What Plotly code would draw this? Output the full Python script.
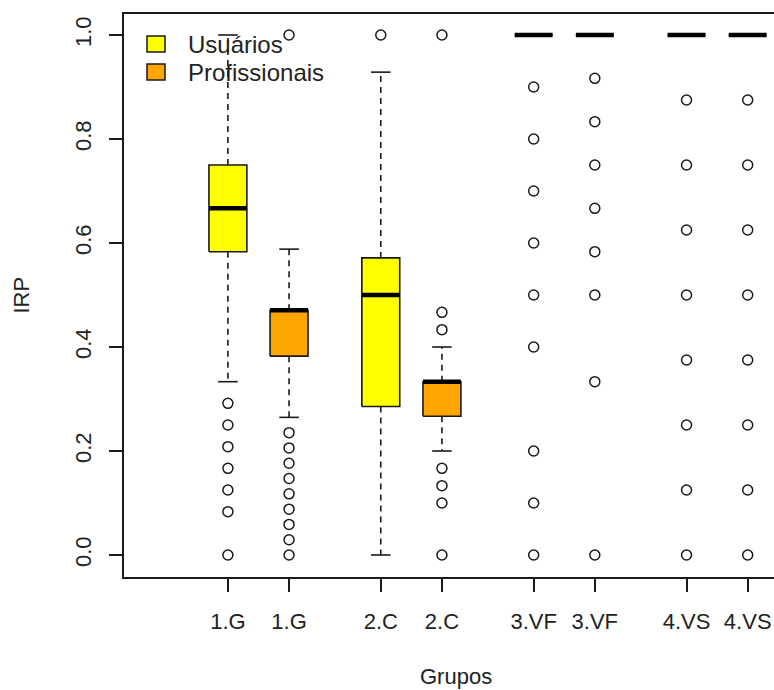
import plotly.graph_objects as go

# Box statistics per group (IRP scores), two respondent types
groups = ["1.G", "2.C", "3.VF", "4.VS"]
series_names = ["Usuários", "Profissionais"]

usu_q1 = [0.5833, 0.2857, 1.0, 1.0]
usu_median = [0.6667, 0.5000, 1.0, 1.0]
usu_q3 = [0.7500, 0.5714, 1.0, 1.0]
usu_whisker_lo = [0.3333, 0.0, 1.0, 1.0]
usu_whisker_hi = [1.0, 0.9286, 1.0, 1.0]
usu_outliers = [
    [0.2917, 0.2500, 0.2083, 0.1667, 0.1250, 0.0833, 0.0],
    [1.0],
    [0.9, 0.8, 0.7, 0.6, 0.5, 0.4, 0.2, 0.1, 0.0],
    [0.875, 0.75, 0.625, 0.5, 0.375, 0.25, 0.125, 0.0],
]

pro_q1 = [0.3824, 0.2667, 1.0, 1.0]
pro_median = [0.4706, 0.3333, 1.0, 1.0]
pro_q3 = [0.4706, 0.3333, 1.0, 1.0]
pro_whisker_lo = [0.2647, 0.2000, 1.0, 1.0]
pro_whisker_hi = [0.5882, 0.4000, 1.0, 1.0]
pro_outliers = [
    [1.0, 0.2353, 0.2059, 0.1765, 0.1471, 0.1176, 0.0882, 0.0588, 0.0294, 0.0],
    [1.0, 0.4667, 0.4333, 0.1667, 0.1333, 0.1000, 0.0],
    [0.9167, 0.8333, 0.75, 0.6667, 0.5833, 0.5, 0.3333, 0.0],
    [0.875, 0.75, 0.625, 0.5, 0.375, 0.25, 0.125, 0.0],
]

y_ticks = [0.0, 0.2, 0.4, 0.6, 0.8, 1.0]

# layout / style
FILL = {"Usuários": "#FFFF00", "Profissionais": "#FFA500"}
INK = "#1a1a1a"
FONT = "Liberation Sans, Arial, sans-serif"
HALF_BOX = 0.31
HALF_CAP = 0.16
GROUP_STEP = 2.5

W, H = 774, 690
M_L, M_R, M_T, M_B = 124, 0, 14, 113
PLOT_W, PLOT_H = W - M_L - M_R, H - M_T - M_B


def px(xpix):
    return (xpix - M_L) / PLOT_W


def py(ypix):
    return (H - M_B - ypix) / PLOT_H


series = [
    ("Usuários", 0.0, usu_q1, usu_median, usu_q3, usu_whisker_lo, usu_whisker_hi, usu_outliers),
    ("Profissionais", 1.0, pro_q1, pro_median, pro_q3, pro_whisker_lo, pro_whisker_hi, pro_outliers),
]

fig = go.Figure()
tick_pos, tick_txt = [], []

for name, offset, q1, med, q3, wlo, whi, outs in series:
    for i, g in enumerate(groups):
        p = 1 + GROUP_STEP * i + offset
        tick_pos.append(p)
        tick_txt.append(g)
        # dashed whiskers
        fig.add_trace(go.Scatter(
            x=[p, p, None, p, p], y=[q3[i], whi[i], None, q1[i], wlo[i]],
            mode="lines", line=dict(color=INK, width=1.6, dash="6px,5px"),
            showlegend=False, hoverinfo="skip"))
        # staples
        fig.add_trace(go.Scatter(
            x=[p - HALF_CAP, p + HALF_CAP, None, p - HALF_CAP, p + HALF_CAP],
            y=[whi[i], whi[i], None, wlo[i], wlo[i]],
            mode="lines", line=dict(color=INK, width=1.6),
            showlegend=False, hoverinfo="skip"))
        # box
        fig.add_trace(go.Scatter(
            x=[p - HALF_BOX, p + HALF_BOX, p + HALF_BOX, p - HALF_BOX, p - HALF_BOX],
            y=[q1[i], q1[i], q3[i], q3[i], q1[i]],
            mode="lines", fill="toself", fillcolor=FILL[name],
            line=dict(color=INK, width=1.6),
            showlegend=False, hoverinfo="skip"))
        # median
        fig.add_trace(go.Scatter(
            x=[p - HALF_BOX, p + HALF_BOX], y=[med[i], med[i]],
            mode="lines", line=dict(color="#000000", width=4.5),
            showlegend=False, hoverinfo="skip"))
        # outliers
        fig.add_trace(go.Scatter(
            x=[p] * len(outs[i]), y=outs[i], mode="markers",
            marker=dict(symbol="circle-open", size=10, color=INK, line=dict(width=1.5)),
            showlegend=False, hoverinfo="skip"))

# legend: colour keys and labels in the top-left corner of the plot
shapes, annotations = [], []
for k, name in enumerate(series_names):
    cy = 44 + 28 * k
    shapes.append(dict(type="rect", xref="paper", yref="paper",
                       x0=px(147), x1=px(165), y0=py(cy - 8), y1=py(cy + 8),
                       fillcolor=FILL[name], line=dict(color=INK, width=1.5)))
    annotations.append(dict(text=name, xref="paper", yref="paper",
                            x=px(186), y=py(cy), xanchor="left", yanchor="middle",
                            showarrow=False, font=dict(size=24)))

annotations += [
    dict(text="IRP", xref="paper", yref="paper", x=0, y=0.5,
         xanchor="center", yanchor="middle", xshift=-103, textangle=-90,
         showarrow=False, font=dict(size=22)),
    dict(text="Grupos", xref="paper", yref="paper", x=px(456), y=0,
         xanchor="center", yanchor="middle", yshift=-99,
         showarrow=False, font=dict(size=22)),
]

fig.update_layout(
    width=W, height=H,
    margin=dict(l=M_L, r=M_R, t=M_T, b=M_B),
    paper_bgcolor="white", plot_bgcolor="white",
    font=dict(family=FONT, size=22, color="#222222"),
    showlegend=False,
    xaxis=dict(range=[-0.699, 9.93], tickvals=tick_pos, ticktext=tick_txt,
               showgrid=False, zeroline=False, showline=True, mirror=True,
               linecolor=INK, linewidth=1.5, ticks="outside", ticklen=13,
               tickwidth=1.5, tickcolor=INK, ticklabelstandoff=11,
               fixedrange=True),
    yaxis=dict(range=[-0.0423, 1.0404], tickvals=y_ticks,
               ticktext=[f"{v:.1f}" for v in y_ticks], tickangle=-90,
               showgrid=False, zeroline=False, showline=True, mirror=False,
               linecolor=INK, linewidth=1.5, ticks="outside", ticklen=13,
               tickwidth=1.5, tickcolor=INK, ticklabelstandoff=9,
               fixedrange=True),
    shapes=shapes,
    annotations=annotations,
)

fig.write_html("out.html")
